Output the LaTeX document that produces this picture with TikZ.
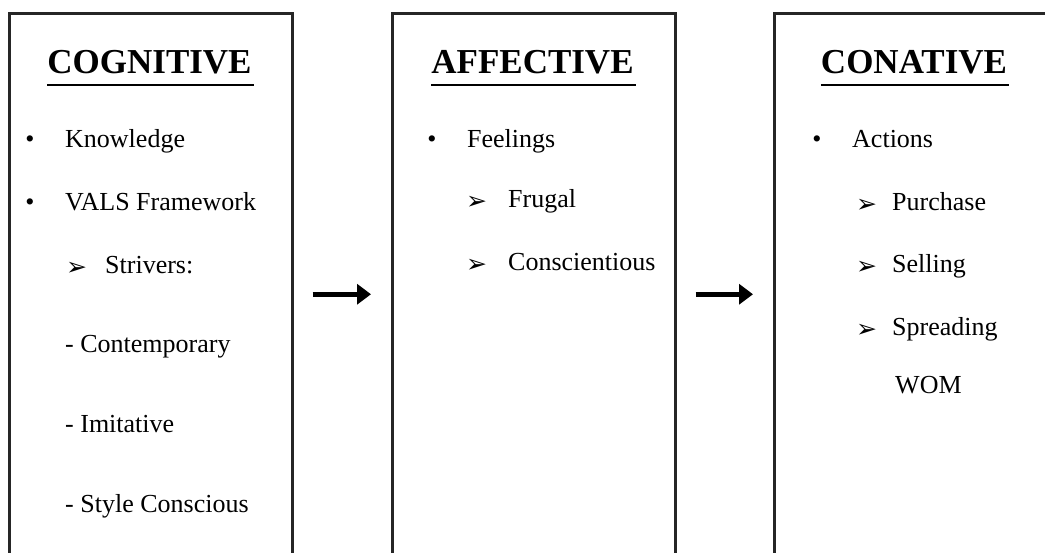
\documentclass[tikz,border=0pt]{standalone}
\usepackage{fontspec}
\setmainfont{Liberation Serif}
\newfontfamily\symfont{DejaVu Sans}
\usepackage{tikz}
\usetikzlibrary{arrows.meta}

\tikzset{
  box/.style={draw=black!85, line width=2.5pt, minimum width=283pt, minimum height=562pt, anchor=north west, inner sep=0pt},
  title/.style={anchor=base, inner sep=0pt, font=\fontsize{35}{40}\selectfont\bfseries},
  item/.style={anchor=base west, inner sep=0pt, font=\fontsize{26}{30}\selectfont},
  dot/.style={anchor=base, inner sep=0pt, font=\fontsize{26}{30}\selectfont},
  tri/.style={anchor=base west, inner sep=0pt, font=\symfont\fontsize{25}{28}\selectfont},
  uline/.style={line width=2pt},
  arr/.style={line width=5pt, -{Triangle[length=14pt,width=20pt]}, shorten <=19pt, shorten >=20pt}
}

\begin{document}
\begin{tikzpicture}[x=1pt, y=-1pt]
    \useasboundingbox (0,0) rectangle (1045,552);
    \clip (0,0) rectangle (1045,552);
    % the three boxes
    \node[box] (cog) at (8,12) {};
    \node[box] (aff) at (391,12) {};
    \node[box] (con) at (773,12) {};
    % titles
    \node[title] (cogt) at (149.5,73) {COGNITIVE};
    \node[title] (afft) at (532.5,73) {AFFECTIVE};
    \node[title] (cont) at (914,73) {CONATIVE};
    \foreach \t in {cogt,afft,cont}
        \draw[uline] ([yshift=-12pt]\t.base west) -- ([xshift=2pt,yshift=-12pt]\t.base east);
    % cognitive
    \foreach \n/\y/\txt in {k/147/Knowledge, v/210/VALS Framework}
    {
        \node[dot] (cog\n b) at (30,\y) {\textbullet};
        \node[item] (cog\n) at (65,\y) {\txt};
    }
    \node[tri] (cogsb) at (66,275) {➢};
    \node[item] (cogs) at (105,273) {Strivers:};
    \node[item] (cogc) at (65,352) {- Contemporary};
    \node[item] (cogi) at (65,432) {- Imitative};
    \node[item] (cogy) at (65,512) {- Style Conscious};
    % affective
    \node[dot] (afffb) at (432,147) {\textbullet};
    \node[item] (afff) at (467,147) {Feelings};
    \foreach \n/\y/\txt in {g/207/Frugal, c/270/Conscientious}
    {
        \node[tri] (aff\n b) at (466,\y+2) {➢};
        \node[item] (aff\n) at (508,\y) {\txt};
    }
    % conative
    \node[dot] (conab) at (817,147) {\textbullet};
    \node[item] (cona) at (852,147) {Actions};
    \foreach \n/\y/\txt in {p/210/Purchase, s/272/Selling, r/335/Spreading}
    {
        \node[tri] (con\n b) at (856,\y+2) {➢};
        \node[item] (con\n) at (892,\y) {\txt};
    }
    \node[item] (conw) at (895,393) {WOM};
    % arrows
    \draw[arr] (cog) -- (aff);
    \draw[arr] (aff) -- (con);
\end{tikzpicture}
\end{document}
